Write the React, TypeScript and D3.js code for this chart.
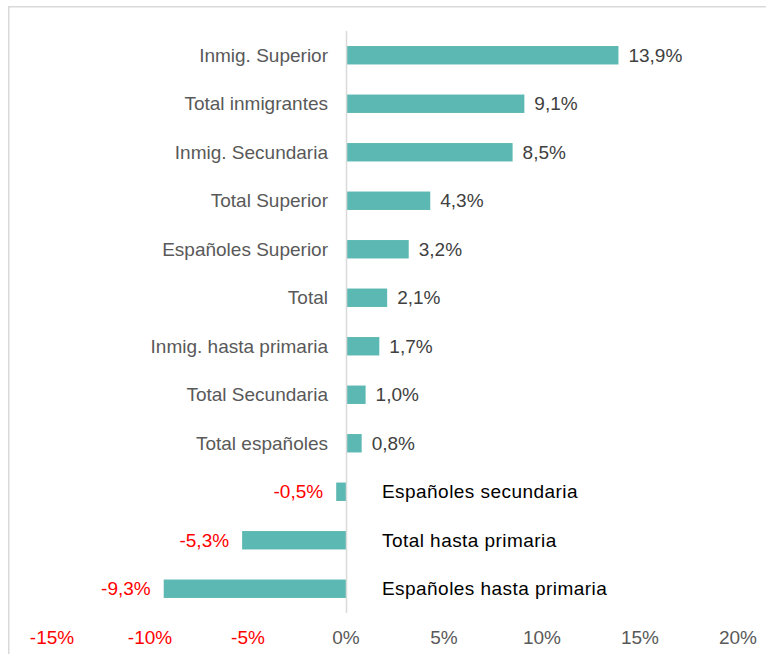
import React from "react";
import * as d3 from "d3";

const categories = [
  "Inmig. Superior",
  "Total inmigrantes",
  "Inmig. Secundaria",
  "Total Superior",
  "Españoles Superior",
  "Total",
  "Inmig. hasta primaria",
  "Total Secundaria",
  "Total españoles",
  "Españoles secundaria",
  "Total hasta primaria",
  "Españoles hasta primaria",
];
const values = [13.9, 9.1, 8.5, 4.3, 3.2, 2.1, 1.7, 1.0, 0.8, -0.5, -5.3, -9.3];
const tickValues = [-15, -10, -5, 0, 5, 10, 15, 20];

const W = 766;
const H = 654;
const FONT = "'Liberation Sans', Arial, sans-serif";

export default function App() {
  const x = d3.scaleLinear().domain([-15, 20]).range([52, 738]);
  const y = d3.scaleBand<string>().domain(categories).range([31, 613]).paddingInner(0.62).paddingOuter(0.31);
  const fmt = (v: number) => v.toFixed(1).replace(".", ",") + "%";
  const x0 = x(0);
  return (
    <svg width={W} height={H} style={{ position: "absolute", left: 0, top: 0 }} fontFamily={FONT}>
      <rect x={0} y={0} width={W} height={H} fill="#fff" />
      <path d={`M8.75,${H + 2}V6.75H${W + 2}`} fill="none" stroke="#d9d9d9" strokeWidth={1.5} />
      {categories.map((c, i) => {
        const v = values[i];
        const yy = y(c)!;
        const bh = y.bandwidth();
        const cy = yy + bh / 2;
        const xa = x(Math.min(0, v));
        const xb = x(Math.max(0, v));
        return (
          <g key={c}>
            <rect x={xa} y={yy} width={xb - xa} height={bh} fill="#5cb8b2" />
            {v >= 0 ? (
              <>
                <text x={x0 - 18} y={cy} dy="0.35em" textAnchor="end" fontSize={19} fill="#595959">{c}</text>
                <text x={xb + 10} y={cy} dy="0.35em" textAnchor="start" fontSize={19} fill="#404040">{fmt(v)}</text>
              </>
            ) : (
              <>
                <text x={x0 + 36} y={cy} dy="0.35em" textAnchor="start" fontSize={19} fill="#000" letterSpacing={0.45}>{c}</text>
                <text x={xa - 13} y={cy} dy="0.35em" textAnchor="end" fontSize={19} fill="#ff0000">{fmt(v)}</text>
              </>
            )}
          </g>
        );
      })}
      <line x1={x0 + 0.5} x2={x0 + 0.5} y1={31} y2={613} stroke="#d9d9d9" strokeWidth={1.5} />
      {tickValues.map((t) => (
        <text key={t} x={x(t)} y={637} dy="0.35em" textAnchor="middle" fontSize={19} fill={t < 0 ? "#ff0000" : "#595959"}>
          {t + "%"}
        </text>
      ))}
    </svg>
  );
}
